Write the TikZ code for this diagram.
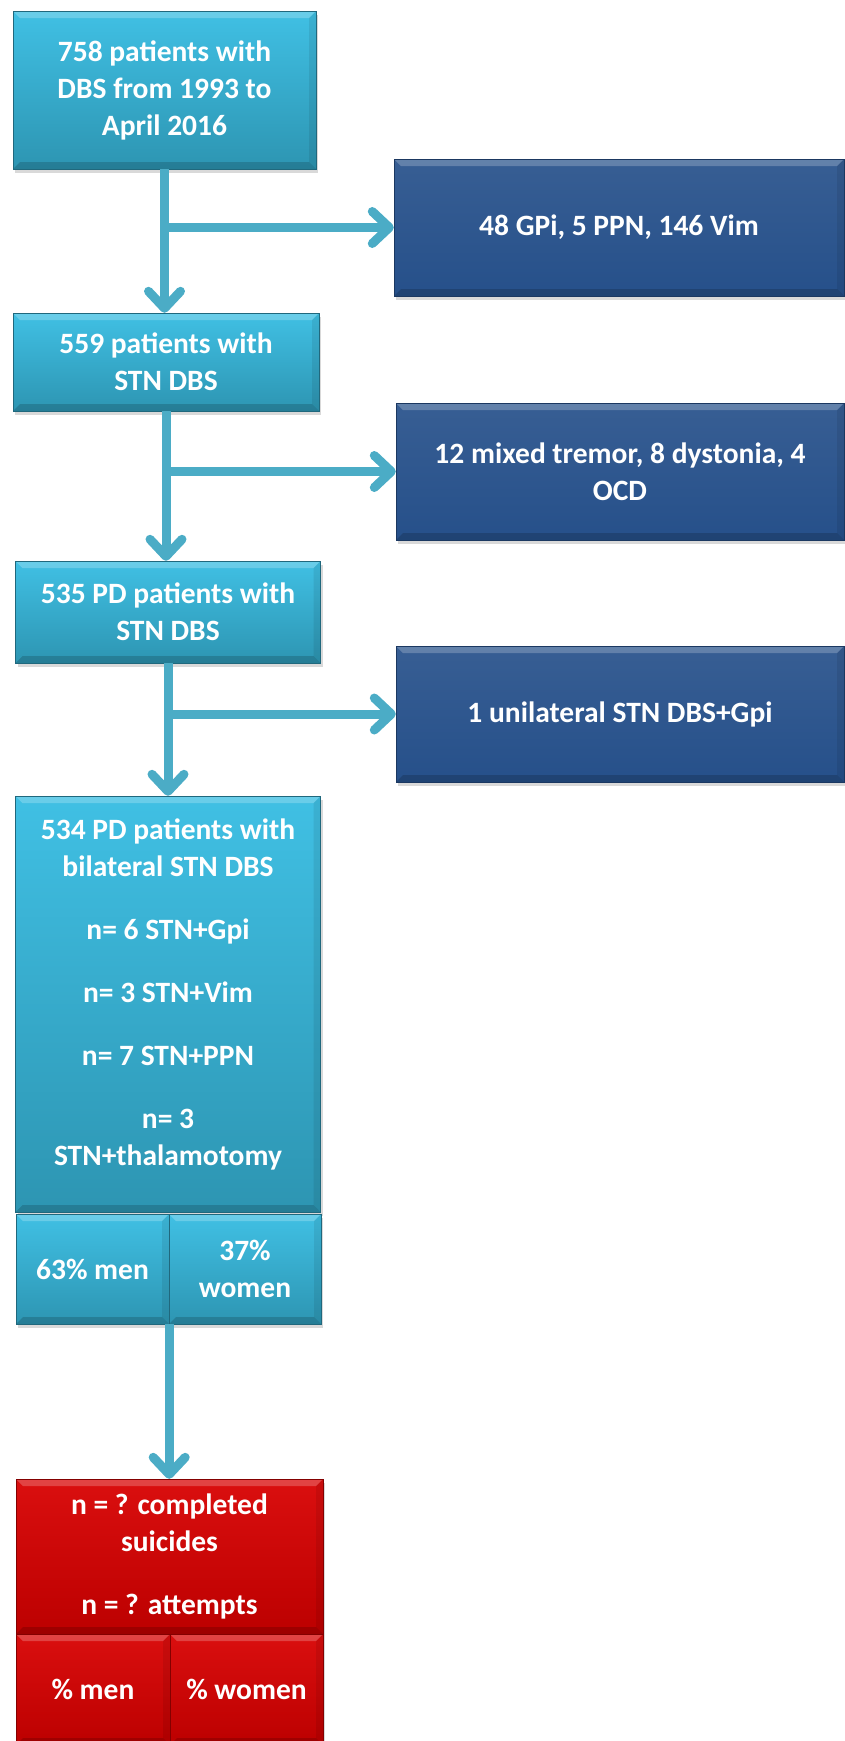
\documentclass[tikz,border=0pt]{standalone}
\usepackage{fontspec}
\setmainfont{Carlito}
\usepackage{xcolor}
\usetikzlibrary{arrows.meta,positioning,shadows}
\definecolor{cyantop}{HTML}{40C0E4}
\definecolor{cyanbot}{HTML}{2D95B2}
\definecolor{navybox}{HTML}{26508A}
\definecolor{redtop}{HTML}{DA0F0F}
\definecolor{redbot}{HTML}{BC0000}
\definecolor{flowline}{HTML}{4BACC6}
\tikzset{
  bevel/.style={path picture={
    \fill[white,opacity=.22] (path picture bounding box.north west) -- (path picture bounding box.north east)
      -- ([shift={(-7pt,-7pt)}]path picture bounding box.north east) -- ([shift={(7pt,-7pt)}]path picture bounding box.north west) -- cycle;
    \fill[black,opacity=.16] (path picture bounding box.south west) -- (path picture bounding box.south east)
      -- ([shift={(-7pt,7pt)}]path picture bounding box.south east) -- ([shift={(7pt,7pt)}]path picture bounding box.south west) -- cycle;
    \fill[black,opacity=.08] (path picture bounding box.north east) -- (path picture bounding box.south east)
      -- ([shift={(-7pt,7pt)}]path picture bounding box.south east) -- ([shift={(-7pt,-7pt)}]path picture bounding box.north east) -- cycle;}},
  cohort/.style={rectangle,draw=cyanbot!70!black,top color=cyantop,bottom color=cyanbot,
    text=white,align=center,inner sep=0pt,font=\fontsize{29.5}{37}\selectfont\bfseries,
    drop shadow={opacity=.3,shadow xshift=2pt,shadow yshift=-4pt},bevel},
  excluded/.style={cohort,draw=navybox!70!black,top color=navybox!92!white,bottom color=navybox},
  outcome/.style={cohort,draw=redbot!70!black,top color=redtop,bottom color=redbot},
  arrow/.style={-{Straight Barb[round,length=17pt,width=32pt]},line width=9pt,draw=flowline}
}
\begin{document}
\begin{tikzpicture}[x=1pt,y=-1pt]
\useasboundingbox (0,0) rectangle (845,1741);
% main column
\node[cohort,minimum width=303pt,minimum height=158pt] (all) at (164.5,90)
  {758 patients with\\DBS from 1993 to\\April 2016};
\node[cohort,minimum width=306pt,minimum height=98pt] (stn) at (166,362)
  {559 patients with\\STN DBS};
\node[cohort,minimum width=305pt,minimum height=102pt] (pd) at (168,612)
  {535 PD patients with\\STN DBS};
\node[cohort,minimum width=305pt,minimum height=416pt] (bilat) at (168,1004)
  {534 PD patients with\\bilateral STN DBS\\[26pt]n= 6 STN+Gpi\\[26pt]n= 3 STN+Vim\\[26pt]n= 7 STN+PPN\\[26pt]n= 3\\STN+thalamotomy\\[-14pt]\mbox{}};
\node[cohort,minimum width=153pt,minimum height=110pt] (men) at (92.5,1269) {63\% men};
\node[cohort,minimum width=152pt,minimum height=110pt] (women) at (245,1269) {37\%\\women};
% outcome
\node[outcome,minimum width=307pt,minimum height=155pt] (suicide) at (169.5,1556.5)
  {n = ? completed\\suicides\\[26pt]n = ? attempts};
\node[outcome,minimum width=154pt,minimum height=111pt] (pmen) at (93,1689.5) {\% men};
\node[outcome,minimum width=153pt,minimum height=111pt] (pwomen) at (246.5,1689.5) {\% women};
% exclusions
\node[excluded,minimum width=450pt,minimum height=137pt] (ex1) at (619,227.5)
  {48 GPi, 5 PPN, 146 Vim};
\node[excluded,minimum width=448pt,minimum height=137pt] (ex2) at (620,471.5)
  {12 mixed tremor, 8 dystonia, 4\\OCD};
\node[excluded,minimum width=448pt,minimum height=136pt] (ex3) at (620,714)
  {1 unilateral STN DBS+Gpi};
% connectors
\draw[arrow] (all.south) -- (all.south |- stn.north);
\draw[arrow] (all.south |- ex1.west) -- (ex1.west);
\draw[arrow] (stn.south) -- (stn.south |- pd.north);
\draw[arrow] (stn.south |- ex2.west) -- (ex2.west);
\draw[arrow] (pd.south) -- (pd.south |- bilat.north);
\draw[arrow] (pd.south |- ex3.west) -- (ex3.west);
\draw[arrow] (men.south east) -- (men.south east |- suicide.north);
\end{tikzpicture}
\end{document}
